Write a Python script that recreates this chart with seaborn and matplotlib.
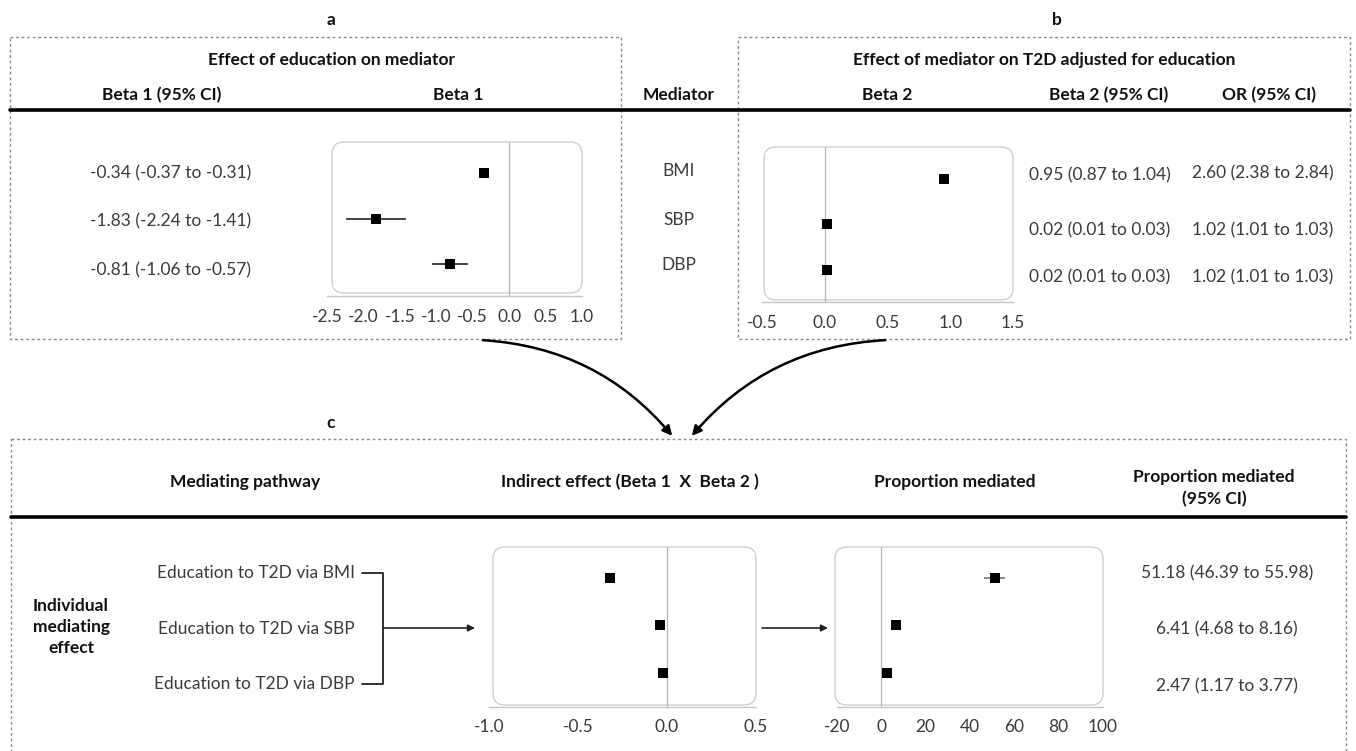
import matplotlib
matplotlib.use("Agg")
import matplotlib.pyplot as plt
from matplotlib.patches import FancyBboxPatch, FancyArrowPatch, Rectangle
import seaborn as sns
import pandas as pd

# data
mediators = ["BMI", "SBP", "DBP"]
beta1 = [-0.34, -1.83, -0.81]
beta1_lo = [-0.37, -2.24, -1.06]
beta1_hi = [-0.31, -1.41, -0.57]
beta2 = [0.95, 0.02, 0.02]
beta2_lo = [0.87, 0.01, 0.01]
beta2_hi = [1.04, 0.03, 0.03]
odds = [2.60, 1.02, 1.02]
odds_lo = [2.38, 1.01, 1.01]
odds_hi = [2.84, 1.03, 1.03]
indirect = [-0.32, -0.04, -0.02]
indirect_lo = [-0.35, -0.05, -0.03]
indirect_hi = [-0.29, -0.03, -0.01]
prop_med = [51.18, 6.41, 2.47]
prop_lo = [46.39, 4.68, 1.17]
prop_hi = [55.98, 8.16, 3.77]

W, H = 1356, 751
sns.set_theme(style="white")
plt.rcParams['font.family'] = ['Lato', 'DejaVu Sans']
plt.rcParams['axes.unicode_minus'] = False

TXT = '#3a3a3a'
FS = 12.5

fig = plt.figure(figsize=(W / 100, H / 100), dpi=100)
bg = fig.add_axes([0, 0, 1, 1])
bg.set_xlim(0, W)
bg.set_ylim(H, 0)
bg.axis('off')


def fmt_ci(v, lo, hi):
    return [f"{a:.2f} ({b:.2f} to {c:.2f})" for a, b, c in zip(v, lo, hi)]


def txt(x, y, s, bold=False, ha='center', size=FS, **kw):
    bg.text(x, y, s, ha=ha, va='center', fontsize=size,
            fontweight='bold' if bold else 'normal',
            color='#111111' if bold else TXT, **kw)


def dashed_box(x0, y0, x1, y1):
    bg.add_patch(Rectangle((x0, y0), x1 - x0, y1 - y0, fill=False,
                           edgecolor='#8a8a8a', lw=1.0, linestyle=(0, (2, 2))))


def forest(ext, box, est, lo, hi, xlim, ticks, tick_fmt, ylim, ci_color='#222222'):
    x0, y0, x1, y1 = ext
    bx0, by0, bx1, by1 = box
    bg.add_patch(FancyBboxPatch((bx0, by0), bx1 - bx0, by1 - by0,
                                boxstyle="round,pad=0,rounding_size=12",
                                fill=False, edgecolor='#cfcfcf', lw=1.0))
    ax = fig.add_axes([x0 / W, 1 - y1 / H, (x1 - x0) / W, (y1 - y0) / H])
    ax.patch.set_alpha(0)
    df = pd.DataFrame({'row': range(len(est)), 'est': est, 'lo': lo, 'hi': hi})
    ax.axvline(0, color='#b5b5b5', lw=0.9, zorder=1)
    if ci_color is not None:
        ax.hlines(df['row'], df['lo'], df['hi'], color=ci_color, lw=1.2, zorder=2)
    sns.scatterplot(data=df, x='est', y='row', marker='s', s=50, color='black',
                    edgecolor='black', linewidth=0, ax=ax, zorder=3, legend=False)
    ax.set_xlim(*xlim)
    ax.set_ylim(*ylim)
    ax.set_xticks(ticks)
    ax.set_xticklabels([tick_fmt.format(t) for t in ticks])
    ax.set_yticks([])
    ax.set_xlabel('')
    ax.set_ylabel('')
    for sp in ['top', 'left', 'right']:
        ax.spines[sp].set_visible(False)
    ax.spines['bottom'].set_color('#c4c4c4')
    ax.spines['bottom'].set_linewidth(1.0)
    ax.tick_params(axis='x', direction='out', length=4, color='#c4c4c4',
                   labelsize=FS, labelcolor=TXT, pad=5)
    return ax


# ---------- panels a and b ----------
txt(331, 20, "a", bold=True)
txt(1057, 20, "b", bold=True)
dashed_box(10, 37, 621, 339)
dashed_box(738, 37, 1350, 339)
txt(331, 60, "Effect of education on mediator", bold=True)
txt(1044, 60, "Effect of mediator on T2D adjusted for education", bold=True)
for x, s in [(162, "Beta 1 (95% CI)"), (458, "Beta 1"), (679, "Mediator"),
             (887, "Beta 2"), (1109, "Beta 2 (95% CI)"), (1269, "OR (95% CI)")]:
    txt(x, 95, s, bold=True)
bg.plot([10, 1350], [110, 110], color='black', lw=2.6)

for y, s in zip([173, 221, 270], fmt_ci(beta1, beta1_lo, beta1_hi)):
    txt(171, y, s)
for y, s in zip([171, 220, 265], mediators):
    txt(679, y, s)
for y, s in zip([175, 230, 277], fmt_ci(beta2, beta2_lo, beta2_hi)):
    txt(1100, y, s)
for y, s in zip([173, 230, 277], fmt_ci(odds, odds_lo, odds_hi)):
    txt(1263, y, s)

forest((327, 142, 582, 296), (332, 142, 582, 293), beta1, beta1_lo, beta1_hi,
       (-2.5, 1.0), [-2.5, -2.0, -1.5, -1.0, -0.5, 0.0, 0.5, 1.0], "{:.1f}", (2.70, -0.68))
forest((762, 147, 1013, 302), (764, 147, 1013, 300), beta2, beta2_lo, beta2_hi,
       (-0.5, 1.5), [-0.5, 0.0, 0.5, 1.0, 1.5], "{:.1f}", (2.70, -0.70), ci_color=None)

# curved arrows into panel c
for start, end, rad in [((480, 340), (674, 438), -0.22), ((888, 340), (690, 438), 0.22)]:
    bg.add_patch(FancyArrowPatch(start, end, connectionstyle=f"arc3,rad={rad}",
                                 arrowstyle="-|>", mutation_scale=14, lw=1.8,
                                 color='black'))

# ---------- panel c ----------
txt(331, 423, "c", bold=True)
dashed_box(11, 439, 1346, 770)
txt(245, 482, "Mediating pathway", bold=True)
txt(630, 482, "Indirect effect (Beta 1  X  Beta 2 )", bold=True)
txt(955, 482, "Proportion mediated", bold=True)
txt(1214, 488, "Proportion mediated\n(95% CI)", bold=True, linespacing=1.45)
bg.plot([11, 1346], [517, 517], color='black', lw=2.6)

txt(71, 627, "Individual\nmediating\neffect", bold=True, linespacing=1.4)
for y, m in zip([573, 629, 684], mediators):
    txt(355, y, f"Education to T2D via {m}", ha='right')
bg.plot([362, 383, 383, 362], [573, 573, 684, 684], color='#222222', lw=1.3)
for x0, x1 in [(383, 475), (762, 828)]:
    bg.annotate("", xy=(x1, 628), xytext=(x0, 628),
                arrowprops=dict(arrowstyle="-|>", color='#222222', lw=1.2,
                                mutation_scale=10, shrinkA=0, shrinkB=0))
for y, s in zip([573, 629, 686], fmt_ci(prop_med, prop_lo, prop_hi)):
    txt(1227, y, s)

forest((489, 547, 756, 707), (493, 547, 756, 705), indirect, indirect_lo, indirect_hi,
       (-1.0, 0.5), [-1.0, -0.5, 0.0, 0.5], "{:.1f}", (2.72, -0.65))
forest((837, 547, 1103, 707), (835, 547, 1103, 705), prop_med, prop_lo, prop_hi,
       (-20, 100), [-20, 0, 20, 40, 60, 80, 100], "{:.0f}", (2.72, -0.65), ci_color='#777777')

fig.savefig("out.png", dpi=100)
